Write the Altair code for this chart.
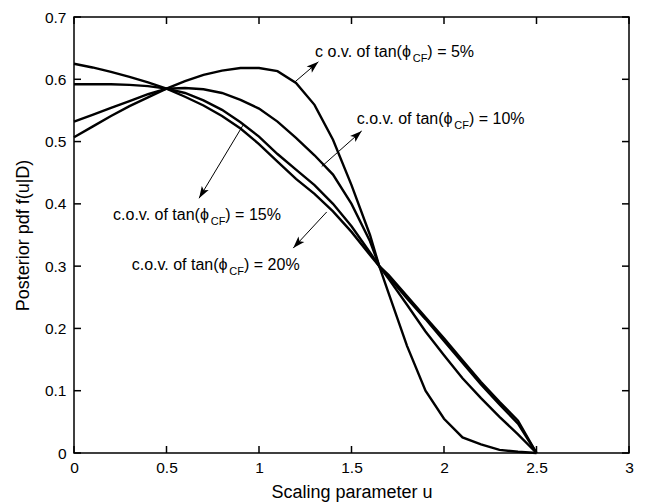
import math
import altair as alt
import pandas as pd

# ---------------- data ----------------
u = [0.0, 0.1, 0.2, 0.3, 0.4, 0.5, 0.6, 0.7, 0.8, 0.9, 1.0, 1.1, 1.2, 1.3,
     1.4, 1.5, 1.6, 1.65, 1.7, 1.8, 1.9, 2.0, 2.1, 2.2, 2.3, 2.4, 2.5]
cov5 = [0.507, 0.524, 0.541, 0.557, 0.571, 0.585, 0.597, 0.607, 0.614, 0.618,
        0.618, 0.613, 0.594, 0.559, 0.503, 0.430, 0.350, 0.300, 0.257, 0.172,
        0.100, 0.055, 0.025, 0.014, 0.005, 0.002, 0.0]
cov10 = [0.532, 0.543, 0.554, 0.565, 0.576, 0.585, 0.586, 0.584, 0.578, 0.567,
         0.553, 0.532, 0.506, 0.478, 0.447, 0.400, 0.340, 0.300, 0.280, 0.238,
         0.195, 0.157, 0.120, 0.088, 0.058, 0.030, 0.0]
cov15 = [0.592, 0.592, 0.592, 0.591, 0.589, 0.585, 0.578, 0.566, 0.551, 0.531,
         0.508, 0.480, 0.455, 0.430, 0.400, 0.364, 0.322, 0.300, 0.283, 0.248,
         0.215, 0.180, 0.145, 0.110, 0.078, 0.047, 0.0]
cov20 = [0.625, 0.619, 0.612, 0.604, 0.595, 0.585, 0.572, 0.558, 0.541, 0.521,
         0.496, 0.468, 0.440, 0.416, 0.388, 0.355, 0.318, 0.300, 0.286, 0.252,
         0.218, 0.184, 0.149, 0.114, 0.082, 0.052, 0.0]
series_names = ["5%", "10%", "15%", "20%"]

x_ticks = [0, 0.5, 1, 1.5, 2, 2.5, 3]
y_ticks = [0, 0.1, 0.2, 0.3, 0.4, 0.5, 0.6, 0.7]

# annotations
ann_prefix = ["c o.v. of tan(\u03d5", "c.o.v. of tan(\u03d5",
              "c.o.v. of tan(\u03d5", "c.o.v. of tan(\u03d5"]
ann_sub = ["CF", "CF", "CF", "CF"]
ann_suffix = [") = 5%", ") = 10%", ") = 15%", ") = 20%"]
ann_x = [1.303, 1.528, 0.211, 0.312]
ann_y = [0.636, 0.528, 0.374, 0.294]
arrow_x_from = [1.195, 1.339, 0.915, 1.366]
arrow_y_from = [0.596, 0.460, 0.527, 0.387]
arrow_x_to = [1.321, 1.555, 0.676, 1.185]
arrow_y_to = [0.628, 0.517, 0.409, 0.329]

# ---------------- layout / style ----------------
W, H = 555, 436
PAD = {"left": 74, "top": 17, "right": 17, "bottom": 51}
X_DOM, Y_DOM = [0, 3], [0, 0.7]
FONT = "Liberation Sans"
MAIN_FS, SUB_FS = 16, 11
TICK_PX = 7
px_per_x = W / (X_DOM[1] - X_DOM[0])
px_per_y = H / (Y_DOM[1] - Y_DOM[0])

ARIAL = {' ': 278, '.': 278, 'c': 500, 'o': 556, 'v': 500, 'f': 278, 't': 278,
         'a': 556, 'n': 556, '(': 333, ')': 333, '=': 584, '%': 889,
         'C': 722, 'F': 611, '\u03d5': 600}


def text_width(s, fs):
    return sum(ARIAL.get(ch, 556) for ch in s) * fs / 1000.0


# ---------------- tables ----------------
rows = []
for name, vals in zip(series_names, [cov5, cov10, cov15, cov20]):
    for i, (uu, v) in enumerate(zip(u, vals)):
        rows.append({"u": uu, "pdf": v, "cov": name, "order": i})
curves = pd.DataFrame(rows)

arr_rows = []
for i in range(len(series_names)):
    dxp = (arrow_x_to[i] - arrow_x_from[i]) * px_per_x
    dyp = -(arrow_y_to[i] - arrow_y_from[i]) * px_per_y
    ang = math.degrees(math.atan2(dxp, -dyp)) % 360
    arr_rows.append({"x1": arrow_x_from[i], "y1": arrow_y_from[i],
                     "x2": arrow_x_to[i], "y2": arrow_y_to[i], "angle": ang})
arrows = pd.DataFrame(arr_rows)

txt_rows = []
for i in range(len(series_names)):
    xs = ann_x[i] + text_width(ann_prefix[i], MAIN_FS) / px_per_x
    xp = xs + text_width(ann_sub[i], SUB_FS) / px_per_x
    txt_rows.append({"x": ann_x[i], "y": ann_y[i], "pre": ann_prefix[i],
                     "xs": xs, "sub": ann_sub[i], "xp": xp, "post": ann_suffix[i]})
texts = pd.DataFrame(txt_rows)

# inward tick marks on all four sides (MATLAB style box)
dx_t = TICK_PX / px_per_x
dy_t = TICK_PX / px_per_y
tick_rows = []
for t in x_ticks:
    tick_rows.append({"a": t, "b": Y_DOM[0], "a2": t, "b2": Y_DOM[0] + dy_t})
    tick_rows.append({"a": t, "b": Y_DOM[1], "a2": t, "b2": Y_DOM[1] - dy_t})
for t in y_ticks:
    tick_rows.append({"a": X_DOM[0], "b": t, "a2": X_DOM[0] + dx_t, "b2": t})
    tick_rows.append({"a": X_DOM[1], "b": t, "a2": X_DOM[1] - dx_t, "b2": t})
ticks_df = pd.DataFrame(tick_rows)

xs_scale = alt.Scale(domain=X_DOM, nice=False, zero=False, padding=0)
ys_scale = alt.Scale(domain=Y_DOM, nice=False, zero=False, padding=0)

lines = alt.Chart(curves).mark_line(color="black", strokeWidth=2.4).encode(
    x=alt.X("u:Q", scale=xs_scale,
            axis=alt.Axis(orient="bottom", values=x_ticks, format="~g", ticks=False,
                          domain=False, labelPadding=7, labelFontSize=15.5,
                          labelFlush=False, labelOverlap=False,
                          labelFont=FONT, labelColor="black",
                          title="Scaling parameter u", titleFont=FONT,
                          titleFontSize=18, titleFontWeight="normal",
                          titleColor="black", titlePadding=8)),
    y=alt.Y("pdf:Q", scale=ys_scale,
            axis=alt.Axis(orient="left", values=y_ticks, format="~g", ticks=False,
                          domain=False, labelPadding=8, labelFontSize=15.5,
                          labelFlush=False, labelOverlap=False,
                          labelFont=FONT, labelColor="black",
                          title="Posterior pdf f(u|D)", titleFont=FONT,
                          titleFontSize=18, titleFontWeight="normal",
                          titleColor="black", titlePadding=12)),
    detail="cov:N",
    order="order:Q",
)

tick_marks = alt.Chart(ticks_df).mark_rule(color="black", strokeWidth=1.5).encode(
    x=alt.X("a:Q", scale=xs_scale),
    y=alt.Y("b:Q", scale=ys_scale),
    x2="a2:Q",
    y2="b2:Q",
)

arrow_lines = alt.Chart(arrows).mark_rule(color="black", strokeWidth=1).encode(
    x=alt.X("x1:Q", scale=xs_scale),
    y=alt.Y("y1:Q", scale=ys_scale),
    x2="x2:Q",
    y2="y2:Q",
)

arrow_heads = alt.Chart(arrows).mark_point(
    shape="M0,0L1,3L0,2.3L-1,3Z", size=64, filled=True, color="black", opacity=1
).encode(
    x=alt.X("x2:Q", scale=xs_scale),
    y=alt.Y("y2:Q", scale=ys_scale),
    angle=alt.Angle("angle:Q", scale=None),
)

base_txt = alt.Chart(texts)
t_pre = base_txt.mark_text(align="left", baseline="alphabetic", font=FONT,
                           fontSize=MAIN_FS, color="black").encode(
    x=alt.X("x:Q", scale=xs_scale),
    y=alt.Y("y:Q", scale=ys_scale),
    text="pre:N")
t_sub = base_txt.mark_text(align="left", baseline="alphabetic", font=FONT,
                           fontSize=SUB_FS, color="black", dy=5).encode(
    x=alt.X("xs:Q", scale=xs_scale),
    y=alt.Y("y:Q", scale=ys_scale),
    text="sub:N")
t_post = base_txt.mark_text(align="left", baseline="alphabetic", font=FONT,
                            fontSize=MAIN_FS, color="black").encode(
    x=alt.X("xp:Q", scale=xs_scale),
    y=alt.Y("y:Q", scale=ys_scale),
    text="post:N")

chart = alt.layer(lines, tick_marks, arrow_lines, arrow_heads, t_pre, t_sub, t_post).properties(
    width=W, height=H,
    autosize=alt.AutoSizeParams(type="none"),
    padding=PAD,
    background="white",
).configure_view(stroke="black", strokeWidth=1.5).configure_axis(grid=False)

chart.save("out.html", embed_options={"renderer": "svg", "actions": False})
